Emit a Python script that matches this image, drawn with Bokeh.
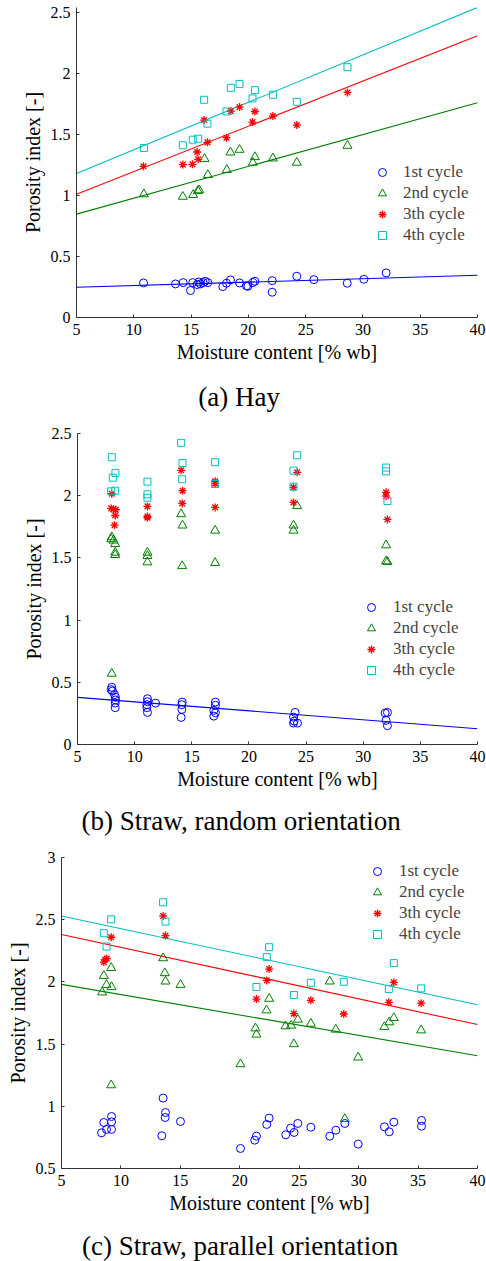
from bokeh.plotting import figure
from bokeh.models import FixedTicker, Legend, LegendItem, Label, Range1d
from bokeh.layouts import column, row
from bokeh.embed import file_html
from bokeh.resources import INLINE

# ---------------- data ----------------
cycle_labels = ["1st cycle", "2nd cycle", "3th cycle", "4th cycle"]
x_ticks = [5, 10, 15, 20, 25, 30, 35, 40]
x_tick_labels = ["5", "10", "15", "20", "25", "30", "35", "40"]
y_ticks_ab = [0, 0.5, 1, 1.5, 2, 2.5]
y_tick_labels_ab = ["0", "0.5", "1", "1.5", "2", "2.5"]
y_ticks_c = [0.5, 1, 1.5, 2, 2.5, 3]
y_tick_labels_c = ["0.5", "1", "1.5", "2", "2.5", "3"]
fit_x = [5, 40]
captions = ["(a)  Hay", "(b)  Straw, random orientation", "(c)  Straw, parallel orientation"]

# (a) Hay
hay_c1_x = [10.85, 13.64, 14.31, 14.95, 15.15, 15.53, 15.68, 15.82, 16.06, 16.23, 16.46, 17.77, 18.09,
            18.44, 19.23, 19.84, 19.96, 20.39, 20.57, 22.08, 22.08, 24.23, 25.72, 28.63, 30.08, 32.03]
hay_c1_y = [0.283, 0.275, 0.286, 0.221, 0.286, 0.270, 0.291, 0.275, 0.286, 0.297, 0.286, 0.253, 0.281,
            0.308, 0.283, 0.259, 0.256, 0.286, 0.297, 0.302, 0.207, 0.338, 0.310, 0.281, 0.313, 0.365]
hay_c2_x = [10.88, 14.28, 15.18, 15.59, 15.71, 16.17, 16.46, 18.12, 18.44, 19.23, 20.39, 20.57, 22.14, 24.23, 28.65]
hay_c2_y = [1.010, 0.990, 1.005, 1.038, 1.043, 1.300, 1.168, 1.210, 1.353, 1.375, 1.269, 1.315, 1.304, 1.269, 1.408]
hay_c3_x = [10.85, 14.28, 15.12, 15.53, 15.62, 16.14, 16.43, 18.09, 18.47, 19.23, 20.36, 20.57, 22.14, 24.23, 28.65]
hay_c3_y = [1.239, 1.253, 1.255, 1.356, 1.296, 1.618, 1.435, 1.473, 1.691, 1.724, 1.601, 1.688, 1.650, 1.577, 1.844]
hay_c4_x = [10.88, 14.28, 15.15, 15.62, 16.14, 16.43, 18.09, 18.47, 19.23, 20.36, 20.57, 22.14, 24.23, 28.65]
hay_c4_y = [1.389, 1.411, 1.457, 1.465, 1.784, 1.588, 1.688, 1.882, 1.914, 1.795, 1.863, 1.825, 1.767, 2.051]
hay_fit_y = [[0.248, 0.346], [0.847, 1.759], [1.010, 2.309], [1.179, 2.541]]

# (b) Straw, random orientation
rnd_c1_x = [8.0, 7.95, 8.06, 8.24, 8.32, 8.32, 8.3, 8.3, 11.12, 11.12, 11.07, 11.07, 11.12, 11.83,
            14.16, 14.13, 14.13, 14.07, 17.07, 17.07, 16.93, 17.07, 16.93, 24.04, 23.9, 23.96, 23.9, 24.25,
            31.92, 32.12, 32.0, 32.12]
rnd_c1_y = [0.460, 0.441, 0.430, 0.401, 0.379, 0.358, 0.333, 0.296, 0.368, 0.344, 0.320, 0.296, 0.258, 0.333,
            0.341, 0.320, 0.282, 0.218, 0.341, 0.315, 0.274, 0.255, 0.228, 0.258, 0.220, 0.188, 0.172, 0.172,
            0.253, 0.258, 0.194, 0.151]
rnd_c2_x = [8.0, 7.95, 8.15, 8.3, 8.3, 8.3, 11.12, 11.12, 11.12, 14.07, 14.19, 14.16, 17.04, 17.04,
            23.9, 23.9, 24.22, 32.0, 32.0, 32.12, 8.0]
rnd_c2_y = [1.667, 1.651, 1.640, 1.613, 1.543, 1.524, 1.543, 1.516, 1.465, 1.852, 1.761, 1.435, 1.720, 1.460,
            1.761, 1.720, 1.917, 1.602, 1.473, 1.468, 0.570]
rnd_c3_x = [8.0, 7.95, 8.15, 8.35, 8.30, 8.24, 11.12, 11.12, 11.12, 14.07, 14.19, 14.16, 17.04, 17.04, 17.04,
            23.9, 24.22, 23.9, 32.0, 32.0, 32.12]
rnd_c3_y = [2.016, 1.898, 1.892, 1.887, 1.841, 1.763, 1.914, 1.833, 1.823, 2.204, 2.040, 1.938, 2.116, 2.097,
            1.906, 2.067, 2.188, 1.946, 2.027, 1.996, 1.809]
rnd_c4_x = [8.0, 8.09, 8.32, 7.95, 8.3, 11.12, 11.12, 11.12, 14.07, 14.19, 14.16, 17.04, 17.04,
            23.9, 24.22, 23.9, 32.0, 32.0, 32.12]
rnd_c4_y = [2.309, 2.145, 2.183, 2.035, 2.040, 2.113, 2.011, 1.984, 2.425, 2.263, 2.132, 2.269, 2.094,
            2.202, 2.325, 2.073, 2.226, 2.196, 1.957]
rnd_fit_y = [[0.379, 0.126]]

# (c) Straw, parallel orientation
par_c1_x = [8.37, 8.56, 8.79, 9.21, 9.21, 9.21, 13.55, 13.75, 13.72, 13.44, 15.01, 20.06, 21.26, 21.40,
            22.27, 22.47, 23.87, 24.27, 24.57, 24.88, 25.98, 27.57, 28.08, 28.84, 29.96, 32.17, 32.57,
            32.96, 35.29, 35.29]
par_c1_y = [0.787, 0.870, 0.814, 0.918, 0.875, 0.814, 1.066, 0.950, 0.910, 0.763, 0.878, 0.661, 0.728, 0.760,
            0.854, 0.905, 0.771, 0.824, 0.790, 0.862, 0.832, 0.760, 0.808, 0.862, 0.696, 0.835, 0.795,
            0.873, 0.886, 0.840]
par_c2_x = [8.42, 8.56, 8.79, 9.21, 9.18, 13.55, 13.69, 13.75, 15.01, 21.32, 21.40, 22.25, 22.47, 23.84,
            24.32, 24.88, 25.98, 27.57, 28.08, 32.17, 32.57, 32.96, 35.26, 24.55, 20.06, 29.96, 9.18, 28.84]
par_c2_y = [1.916, 2.049, 1.977, 1.959, 2.113, 2.191, 2.071, 2.004, 1.977, 1.627, 1.577, 1.772, 1.865, 1.644,
            1.649, 1.697, 1.665, 2.004, 1.617, 1.638, 1.676, 1.710, 1.611, 1.500, 1.339, 1.393, 1.170, 0.899]
par_c3_x = [8.56, 8.67, 8.81, 9.18, 13.55, 13.75, 22.47, 22.27, 21.40, 24.55, 25.98, 28.75, 32.54, 32.96, 35.26]
par_c3_y = [2.159, 2.178, 2.188, 2.359, 2.530, 2.372, 2.103, 2.012, 1.862, 1.745, 1.852, 1.742, 1.836, 1.996, 1.829]
par_c4_x = [8.56, 8.79, 9.18, 13.55, 13.75, 22.27, 22.47, 21.40, 24.55, 25.98, 28.75, 32.54, 32.96, 35.26]
par_c4_y = [2.391, 2.284, 2.503, 2.640, 2.485, 2.199, 2.279, 1.959, 1.895, 1.993, 2.001, 1.943, 2.151, 1.948]
par_fit_y = [None, [1.980, 1.406], [2.381, 1.657], [2.530, 1.817]]

# ---------------- style ----------------
FONT = "Liberation Serif"
COLORS = ["#0000FF", "#008000", "#FF0000", "#00BFBF"]
MARKERS = ["circle", "triangle", "asterisk", "square"]
SIZES = [8, 9, 8, 7]
WIDTHS = [1, 1, 1.3, 1]
AXIS_COLOR = "#333333"
W = 486


def make_panel(series, fits, y_ticks, y_labels, y_range, height,
               b_left, b_top, b_bottom, legend_xy, legend_standoff):
    p = figure(width=W, height=height, x_range=Range1d(5, 40), y_range=Range1d(*y_range),
               output_backend="svg", toolbar_location=None,
               min_border_left=b_left, min_border_right=9, min_border_top=b_top,
               min_border_bottom=b_bottom)
    p.outline_line_color = None
    p.grid.visible = False
    p.background_fill_color = "white"
    p.border_fill_color = "white"

    for ax in (p.xaxis[0], p.yaxis[0]):
        ax.axis_line_color = AXIS_COLOR
        ax.major_tick_line_color = AXIS_COLOR
        ax.major_tick_in = 3
        ax.major_tick_out = 0
        ax.minor_tick_line_color = None
        ax.major_label_text_font = FONT
        ax.major_label_text_font_size = "16px"
        ax.major_label_text_color = "black"
        ax.axis_label_text_font = FONT
        ax.axis_label_text_font_size = "20px"
        ax.axis_label_text_font_style = "normal"
        ax.axis_label_text_color = "black"

    p.xaxis.ticker = FixedTicker(ticks=x_ticks)
    p.xaxis.major_label_overrides = dict(zip(x_ticks, x_tick_labels))
    p.yaxis.ticker = FixedTicker(ticks=y_ticks)
    p.yaxis.major_label_overrides = dict(zip(y_ticks, y_labels))
    p.xaxis.axis_label = "Moisture content [% wb]"
    p.yaxis.axis_label = "Porosity index [-]"
    p.xaxis.major_label_standoff = 6
    p.xaxis.axis_label_standoff = 3
    p.yaxis.major_label_standoff = 6
    p.yaxis.axis_label_standoff = 4

    for fy, col in zip(fits, COLORS):
        if fy is not None:
            p.line(fit_x, fy, line_color=col, line_width=1.1)

    items = []
    for i, (xs, ys) in enumerate(series):
        r = p.scatter(xs, ys, marker=MARKERS[i], size=SIZES[i], line_color=COLORS[i],
                      fill_color=None, line_width=WIDTHS[i])
        items.append(LegendItem(label=cycle_labels[i], renderers=[r]))

    leg = Legend(items=items, location=legend_xy, padding=0, margin=0, spacing=0,
                 border_line_color=None, background_fill_alpha=0,
                 glyph_width=20, glyph_height=20, label_height=21,
                 label_standoff=legend_standoff,
                 label_text_font=FONT, label_text_font_size="17px")
    p.add_layout(leg)
    return p


def make_caption(text, height, cx, cy):
    c = figure(width=W, height=height, x_axis_type=None, y_axis_type=None,
               output_backend="svg", toolbar_location=None, min_border=0)
    c.outline_line_color = None
    c.grid.visible = False
    c.add_layout(Label(x=cx, y=cy, x_units="screen", y_units="screen", text=text,
                       text_align="center", text_baseline="middle",
                       text_font=FONT, text_font_size="27px", text_color="black"))
    return c


pa = make_panel([(hay_c1_x, hay_c1_y), (hay_c2_x, hay_c2_y), (hay_c3_x, hay_c3_y), (hay_c4_x, hay_c4_y)],
                hay_fit_y, y_ticks_ab, y_tick_labels_ab, (0, 2.54), 369,
                76, 7, 52, (296, 72), 11)
ca = make_caption(captions[0], 46, 242, 19)
pb = make_panel([(rnd_c1_x, rnd_c1_y), (rnd_c2_x, rnd_c2_y), (rnd_c3_x, rnd_c3_y), (rnd_c4_x, rnd_c4_y)],
                rnd_fit_y, y_ticks_ab, y_tick_labels_ab, (0, 2.5), 381,
                77, 18, 52, (284, 64), 12)
cb = make_caption(captions[1], 44, 244, 20)
pc = make_panel([(par_c1_x, par_c1_y), (par_c2_x, par_c2_y), (par_c3_x, par_c3_y), (par_c4_x, par_c4_y)],
                par_fit_y, y_ticks_c, y_tick_labels_c, (0.5, 3), 380,
                61, 17, 52, (306, 224), 12)
cc = make_caption(captions[2], 41, 243, 16)

layout = column(row(pa), row(ca), row(pb), row(cb), row(pc), row(cc), spacing=0)
open("out.html", "w").write(file_html(layout, INLINE))
